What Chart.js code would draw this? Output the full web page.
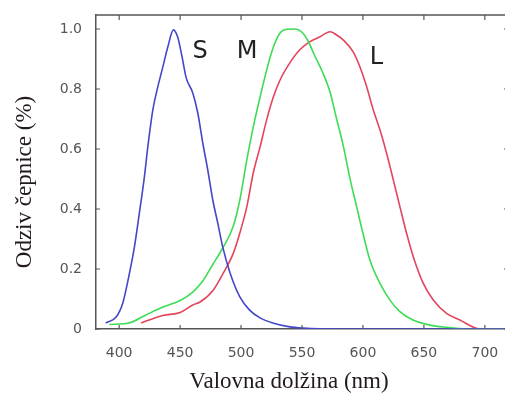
<!DOCTYPE html>
<html>
<head>
<meta charset="utf-8">
<script src="https://cdn.jsdelivr.net/npm/chart.js@4.4.0/dist/chart.umd.min.js"></script>
<style>
  html, body { margin: 0; padding: 0; background: #fff; overflow: hidden; }
  .chart-container { position: relative; width: 520px; height: 396px; }
</style>
</head>
<body>
<div class="chart-container"><canvas id="coneChart"></canvas></div>
<script>
// Data
const sWave = [389, 397.5, 403, 408.5, 412.5, 416.6, 420.7, 423.5, 427.6, 431.7, 435.8, 439.9, 444.5, 448, 451.6, 455, 460.4, 464.5, 468.6, 472.7, 476.8, 480.9, 485, 491, 499, 507, 515.6, 526, 540, 551, 580, 620, 660, 700, 719];
const sResp = [0.02, 0.04, 0.087, 0.187, 0.273, 0.387, 0.507, 0.607, 0.73, 0.807, 0.873, 0.94, 0.997, 0.973, 0.907, 0.837, 0.787, 0.72, 0.62, 0.53, 0.43, 0.353, 0.273, 0.187, 0.107, 0.063, 0.037, 0.02, 0.007, 0.003, 0, 0, 0, 0, 0];

const mWave = [392, 408, 422, 436, 450, 460.4, 468.6, 476.8, 485, 493.4, 499, 504.7, 510, 515.6, 521, 526.5, 532, 537.5, 544, 549.8, 555, 560, 567, 573, 578.4, 584, 589, 594.8, 600, 605.7, 614, 622, 630.3, 641, 655, 668.6, 690, 719];
const mResp = [0.015, 0.02, 0.047, 0.073, 0.095, 0.123, 0.16, 0.215, 0.27, 0.34, 0.43, 0.563, 0.673, 0.773, 0.863, 0.94, 0.987, 0.999, 1.0, 0.99, 0.96, 0.915, 0.855, 0.79, 0.7, 0.608, 0.508, 0.408, 0.319, 0.23, 0.152, 0.097, 0.058, 0.03, 0.013, 0.006, 0, 0];

const lWave = [418, 435.8, 450, 460.4, 466.4, 477.3, 485.5, 493.7, 499, 504.7, 510, 515.6, 521, 526.5, 532, 540, 548, 556.5, 564.8, 573, 578.4, 584, 592, 597.5, 603, 608.5, 614, 619.4, 624.9, 630.3, 635.8, 641.3, 649.5, 657.7, 668.6, 679.5, 696, 719];
const lResp = [0.02, 0.045, 0.055, 0.08, 0.09, 0.13, 0.187, 0.253, 0.32, 0.407, 0.52, 0.607, 0.697, 0.773, 0.83, 0.887, 0.93, 0.958, 0.974, 0.991, 0.98, 0.963, 0.924, 0.874, 0.808, 0.73, 0.663, 0.586, 0.497, 0.408, 0.319, 0.241, 0.152, 0.097, 0.052, 0.03, 0, 0];

const xTicks = [400, 450, 500, 550, 600, 650, 700];
const yTicks = [0, 0.2, 0.4, 0.6, 0.8, 1.0];
const yTickLabels = ['0', '0.2', '0.4', '0.6', '0.8', '1.0'];

const curveNames = ['S', 'M', 'L'];
const curveLabelX = [466.5, 505, 611];
const curveLabelY = [0.923, 0.923, 0.905];

const xTitle = 'Valovna dolžina (nm)';
const yTitle = 'Odziv čepnice (%)';

function toPoints(xs, ys) {
  return xs.map(function (x, i) { return { x: x, y: ys[i] }; });
}

// frame, inward ticks, curve letters and axis titles
const extras = {
  id: 'extras',
  afterDraw: function (chart) {
    const ctx = chart.ctx;
    const area = chart.chartArea;
    const xs = chart.scales.x;
    const ys = chart.scales.y;
    ctx.save();
    ctx.strokeStyle = '#555';
    ctx.lineWidth = 1.5;
    ctx.beginPath();
    ctx.moveTo(area.left, area.top);
    ctx.lineTo(area.right, area.top);
    ctx.stroke();

    ctx.lineWidth = 1.2;
    ctx.beginPath();
    xTicks.forEach(function (v) {
      const px = xs.getPixelForValue(v);
      ctx.moveTo(px, area.top); ctx.lineTo(px, area.top + 5);
      ctx.moveTo(px, area.bottom); ctx.lineTo(px, area.bottom - 4);
    });
    yTicks.forEach(function (v) {
      const py = ys.getPixelForValue(v);
      ctx.moveTo(area.left, py); ctx.lineTo(area.left + 4, py);
      ctx.moveTo(area.right, py); ctx.lineTo(area.right - 4, py);
    });
    ctx.stroke();

    ctx.fillStyle = '#222';
    ctx.font = '24px "DejaVu Sans"';
    ctx.textAlign = 'center';
    ctx.textBaseline = 'middle';
    curveNames.forEach(function (n, i) {
      ctx.fillText(n, xs.getPixelForValue(curveLabelX[i]), ys.getPixelForValue(curveLabelY[i]));
    });

    ctx.fillStyle = '#231a1a';
    ctx.font = '23px "Liberation Serif"';
    ctx.fillText(xTitle, 289, 382);
    ctx.translate(25, 182);
    ctx.rotate(-Math.PI / 2);
    ctx.fillText(yTitle, 0, 0);
    ctx.restore();
  }
};

var ctx = document.getElementById('coneChart').getContext('2d');

var coneChart = new Chart(ctx, {
  type: 'line',
  data: {
    datasets: [
      { label: 'S', data: toPoints(sWave, sResp), borderColor: '#4646c8' },
      { label: 'M', data: toPoints(mWave, mResp), borderColor: '#3edc55' },
      { label: 'L', data: toPoints(lWave, lResp), borderColor: '#e2455c' }
    ]
  },
  options: {
    responsive: true,
    maintainAspectRatio: false,
    animation: false,
    layout: { padding: { top: 15, right: 12, left: 0, bottom: 0 } },
    elements: {
      point: { radius: 0 },
      line: { borderWidth: 1.6, cubicInterpolationMode: 'monotone', fill: false }
    },
    plugins: {
      legend: { display: false },
      tooltip: { enabled: false }
    },
    scales: {
      x: {
        type: 'linear',
        min: 381,
        max: 719,
        afterFit: function (scale) { scale.height = 67; },
        afterBuildTicks: function (scale) {
          scale.ticks = xTicks.map(function (v) { return { value: v }; });
        },
        grid: { display: false },
        border: { display: true, color: '#555', width: 1.5 },
        ticks: {
          padding: 8,
          color: '#555',
          font: { family: 'DejaVu Sans', size: 14 },
          maxRotation: 0
        }
      },
      y: {
        min: 0,
        max: 1.0467,
        afterFit: function (scale) { scale.width = 96; },
        afterBuildTicks: function (scale) {
          scale.ticks = yTicks.map(function (v) { return { value: v }; });
        },
        grid: { display: false },
        border: { display: true, color: '#555', width: 1.5 },
        ticks: {
          padding: 6,
          color: '#555',
          font: { family: 'DejaVu Sans', size: 14 },
          callback: function (value) {
            var i = yTicks.indexOf(value);
            return i >= 0 ? yTickLabels[i] : '';
          }
        }
      }
    }
  },
  plugins: [extras]
});
</script>
</body>
</html>
